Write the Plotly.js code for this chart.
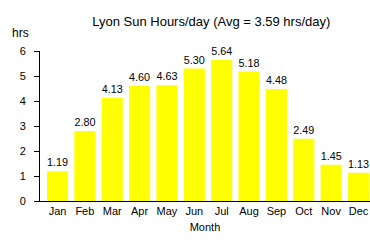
<!DOCTYPE html>
<html><head><meta charset="utf-8">
<script src="https://cdn.plot.ly/plotly-3.0.1.min.js"></script>
<style>html,body{margin:0;padding:0;background:#fff}#c{width:370px;height:240px}</style>
</head><body><div id="c"></div>
<script>
const months = ["Jan","Feb","Mar","Apr","May","Jun","Jul","Aug","Sep","Oct","Nov","Dec"];
const sunHours = [1.19,2.80,4.13,4.60,4.63,5.30,5.64,5.18,4.48,2.49,1.45,1.13];
const yTicks = [0,1,2,3,4,5,6];
const font = "Liberation Sans, Arial, sans-serif";
Plotly.newPlot("c", [{
  type: "bar",
  x: months.map((m,i)=>i),
  y: sunHours,
  marker: {color: "#ffff00"},
  width: 0.77,
  text: sunHours.map(v=>v.toFixed(2)),
  textposition: "outside",
  cliponaxis: false,
  textfont: {family: font, size: 11, color: "#000"},
  hoverinfo: "none"
}], {
  width: 370, height: 240,
  margin: {l: 40, r: 0, t: 51, b: 39},
  paper_bgcolor: "#fff", plot_bgcolor: "#fff",
  font: {family: font, size: 11, color: "#000"},
  showlegend: false,
  bargap: 0.23,
  title: {text: "Lyon Sun Hours/day (Avg = 3.59 hrs/day)", font: {family: font, size: 13, color: "#000"}, x: 0.571, xref: "container", xanchor: "center", y: 0.91, yref: "container", yanchor: "middle"},
  xaxis: {
    range: [-0.64, 11.42], tickmode: "array", tickvals: months.map((m,i)=>i), ticktext: months,
    showline: true, linecolor: "#000", linewidth: 1, ticks: "", showgrid: false, zeroline: false,
    tickfont: {family: font, size: 11, color: "#000"},
    title: {text: "Month", font: {family: font, size: 11, color: "#000"}, standoff: 7}
  },
  yaxis: {
    range: [0, 6], tickmode: "array", tickvals: yTicks,
    showline: true, linecolor: "#000", linewidth: 1, ticks: "outside", ticklen: 5, tickcolor: "#000",
    ticklabelstandoff: 6,
    showgrid: false, zeroline: false, tickfont: {family: font, size: 11, color: "#000"}
  },
  annotations: [{text: "hrs", xref: "paper", yref: "paper", x: -0.058, y: 1.12, xanchor: "center", yanchor: "middle", showarrow: false, font: {family: font, size: 12, color: "#000"}}]
}, {staticPlot: true});
</script></body></html>
